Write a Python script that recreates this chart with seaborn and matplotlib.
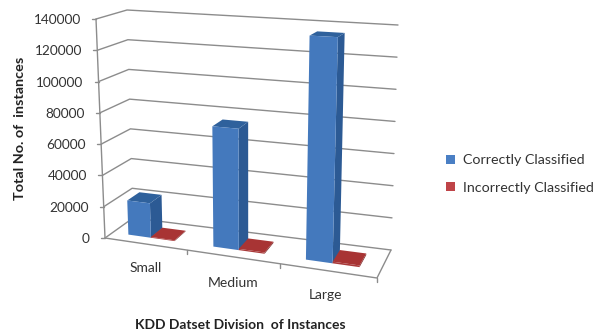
import numpy as np
import pandas as pd
import matplotlib
matplotlib.use("Agg")
import matplotlib.pyplot as plt
import matplotlib.transforms as mtransforms
from matplotlib.patches import Polygon
import seaborn as sns

# values
divisions = ["Small", "Medium", "Large"]
series = ["Correctly Classified", "Incorrectly Classified"]
correct = [22000, 75000, 135000]
incorrect = [500, 800, 1000]
value_ticks = [0, 20000, 40000, 60000, 80000, 100000, 120000, 140000]
value_max = 140000

sns.set_theme(style="white")
plt.rcParams["font.family"] = ["Lato", "DejaVu Sans"]

# box corners in image pixels, [left/right][bottom/top] for front and back
front = np.array([[[105, 238], [96, 19]], [[377, 278], [386, 34]]], dtype=float)
back = np.array([[[133, 218], [127, 10]], [[391, 250], [398, 25]]], dtype=float)
bar_depth = (0.28, 0.72)
text_col = "#333333"
grid_col = "#8c8c8c"


def project(u, v, d):
    # category position, value and depth -> image pixels
    u, v = np.asarray(u, dtype=float), np.asarray(v, dtype=float)
    t = np.clip((u + 0.5) / 3, 0, None) ** 1.09  # right side is nearer
    s = v / value_max
    out = []
    for i in range(2):
        f = (front[0, 0, i] * (1 - t) + front[1, 0, i] * t) * (1 - s) + (
            front[0, 1, i] * (1 - t) + front[1, 1, i] * t
        ) * s
        b = (back[0, 0, i] * (1 - t) + back[1, 0, i] * t) * (1 - s) + (
            back[0, 1, i] * (1 - t) + back[1, 1, i] * t
        ) * s
        out.append(f * (1 - d) + b * d)
    return np.stack(out, axis=-1)


class BoxPlane(mtransforms.Transform):
    # puts the bars of the axes on a plane of the box
    input_dims = 2
    output_dims = 2

    def __init__(self, plane):
        super().__init__()
        self.plane = plane

    def transform_non_affine(self, values):
        return project(values[:, 0], values[:, 1], self.plane)


df = pd.DataFrame(
    {
        "division": divisions * 2,
        "series": np.repeat(series, len(divisions)),
        "count": correct + incorrect,
    }
)

fig = plt.figure(figsize=(5.98, 3.36), dpi=100)
ax = fig.add_axes([0, 0, 1, 1])
sns.barplot(
    data=df,
    x="division",
    y="count",
    hue="series",
    palette=["#4479bd", "#a93a3a"],
    width=0.56,
    saturation=1,
    linewidth=0,
    ax=ax,
)
handles, labels = ax.get_legend_handles_labels()
ax.get_legend().remove()
ax.set_xlim(-0.5, 2.5)
ax.set_ylim(0, value_max)
ax.set_axis_off()

px = mtransforms.Affine2D().scale(1, -1).translate(0, 336)


def line(points, **kw):
    pts = np.array(points)
    ax.plot(pts[:, 0], pts[:, 1], transform=px, color=grid_col, lw=1.0,
            clip_on=False, zorder=1, **kw)


# walls, floor and ticks
for v in value_ticks:
    p0, p1, p2 = project(-0.5, v, 0), project(-0.5, v, 1), project(2.5, v, 1)
    line([p0, p1, p2])
    line([p0, p0 - [4, 0]])
    ax.text(p0[0] - 15, p0[1] + 1, f"{v}", transform=px, ha="right", va="center",
            fontsize=9.8, color=text_col)
line([project(-0.5, 0, 0), project(-0.5, value_max, 0)])
line([project(-0.5, 0, 0), project(2.5, 0, 0), project(2.5, 0, 1)])
for u in [0.5, 1.5, 2.5]:
    p = project(u, 0, 0)
    line([p, p + [0, 4]])

# bars: seaborn rectangles become the front faces, side and top added to them
shades = [("#2c5a94", "#2f619c"), ("#7d2a2a", "#a83434")]
for container, (side_col, top_col) in zip(ax.containers, shades):
    for rect in container:
        x0, x1 = rect.get_x(), rect.get_x() + rect.get_width()
        h = rect.get_height()
        d0, d1 = bar_depth
        rect.set_transform(BoxPlane(d0) + px)
        rect.set_clip_on(False)
        rect.set_zorder(4)
        side = [project(x1, 0, d0), project(x1, 0, d1), project(x1, h, d1), project(x1, h, d0)]
        top = [project(x0, h, d0), project(x1, h, d0), project(x1, h, d1), project(x0, h, d1)]
        ax.add_patch(Polygon(side, closed=True, transform=px, fc=side_col, lw=0, zorder=3, clip_on=False))
        ax.add_patch(Polygon(top, closed=True, transform=px, fc=top_col, lw=0, zorder=3, clip_on=False))

# category labels
label_pos = [(146, 268), (233, 283), (326, 295)]
for name, (lx, ly) in zip(divisions, label_pos):
    ax.text(lx, ly, name, transform=px, ha="center", va="center", fontsize=10, color=text_col)

ax.text(20, 128, "Total No. of  instances", transform=px, rotation=90, ha="center",
        va="center", fontsize=10.4, fontweight="bold", color="#222222")
ax.text(240, 325, "KDD Datset Division  of Instances", transform=px, ha="center",
        va="center", fontsize=10, fontweight="bold", color="#222222")

leg = fig.legend(
    handles,
    labels,
    loc="center left",
    bbox_to_anchor=(446 / 598, 1 - 174 / 336),
    frameon=False,
    fontsize=10.3,
    labelcolor=text_col,
    handlelength=0.65,
    handleheight=0.65,
    handletextpad=0.55,
    labelspacing=1.05,
    borderpad=0,
    borderaxespad=0,
)
leg.get_patches()[0].set_facecolor("#4a7fc4")
leg.get_patches()[1].set_facecolor("#bf4448")

fig.savefig("out.png", dpi=100)
